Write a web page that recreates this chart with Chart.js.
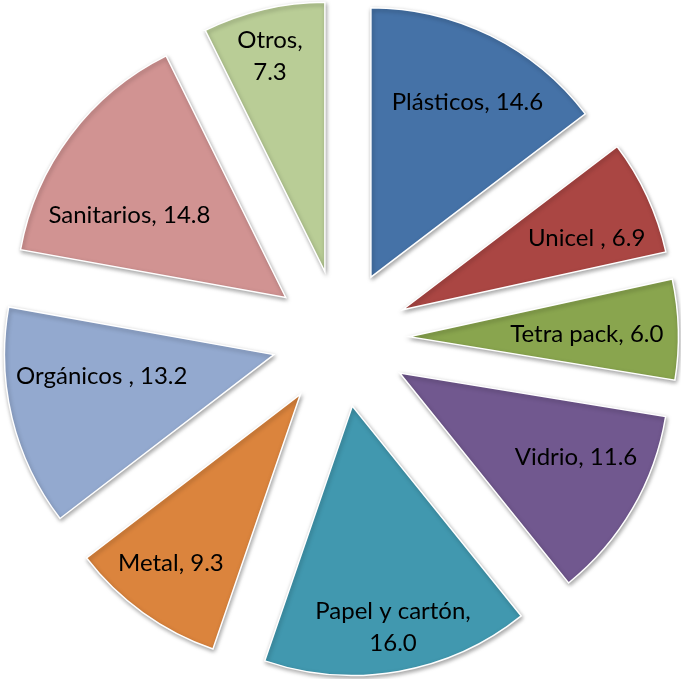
<!DOCTYPE html>
<html>
<head>
<meta charset="utf-8">
<style>
  body { margin: 0; background: #fff; }
  canvas { display: block; }
</style>
<script src="https://cdn.jsdelivr.net/npm/chart.js@4.4.1/dist/chart.umd.min.js"></script>
</head>
<body>
<canvas id="pieChart" width="681" height="679"></canvas>
<script>
// Chart data
const categories = ['Plásticos', 'Unicel ', 'Tetra pack', 'Vidrio', 'Papel y cartón', 'Metal', 'Orgánicos ', 'Sanitarios', 'Otros'];
const values = [14.6, 6.9, 6.0, 11.6, 16.0, 9.3, 13.2, 14.8, 7.3];

// Styling
const sliceColors = ['#4572A7', '#AA4643', '#89A54E', '#71588F', '#4198AF', '#DB843D', '#93A9CF', '#D19392', '#B9CD96'];
const wrapLabels = ['Papel y cartón', 'Otros'];
const explodeRatio = 0.254; // slice pulled out by about a quarter of the radius

// Label placement inside each exploded slice: [fraction of radius, angle shift in degrees]
const labelPlace = [
    [0.740, 2.6], [0.733, 3.5], [0.660, 0.7], [0.725, -4.7], [0.835, -0.5],
    [0.790, 1.75], [0.644, 6.5], [0.656, -9.1], [0.826, -1.1]
];

function labelLines(i) {
    const name = categories[i];
    const val = values[i].toFixed(1);
    if (wrapLabels.includes(name.trim())) {
        return [name + ',', val];
    }
    return [name + ', ' + val];
}

// Draws every slice pulled out along its own bisector, then the labels
const explodePlugin = {
    id: 'explodePie',
    beforeDatasetDraw(chart, args) {
        const ctx = chart.ctx;
        args.meta.data.forEach(function(arc) {
            const mid = (arc.startAngle + arc.endAngle) / 2;
            const d = arc.outerRadius * explodeRatio;
            ctx.save();
            ctx.translate(Math.cos(mid) * d, Math.sin(mid) * d);
            ctx.shadowColor = 'rgba(0, 0, 0, 0.35)';
            ctx.shadowBlur = 4;
            ctx.shadowOffsetX = 1;
            ctx.shadowOffsetY = 2;
            arc.draw(ctx);
            ctx.restore();
        });
        return false;
    },
    afterDatasetsDraw(chart) {
        const ctx = chart.ctx;
        const meta = chart.getDatasetMeta(0);
        ctx.save();
        ctx.font = '24px Lato';
        ctx.fillStyle = '#000';
        ctx.textAlign = 'center';
        ctx.textBaseline = 'middle';
        meta.data.forEach(function(arc, i) {
            const mid = (arc.startAngle + arc.endAngle) / 2;
            const r = arc.outerRadius;
            const sx = arc.x + Math.cos(mid) * r * explodeRatio;
            const sy = arc.y + Math.sin(mid) * r * explodeRatio;
            const a = mid + labelPlace[i][1] * Math.PI / 180;
            const lx = sx + Math.cos(a) * r * labelPlace[i][0];
            const ly = sy + Math.sin(a) * r * labelPlace[i][0];
            const lines = labelLines(i);
            const lineHeight = 32;
            lines.forEach(function(line, k) {
                ctx.fillText(line, lx, ly + (k - (lines.length - 1) / 2) * lineHeight);
            });
        });
        ctx.restore();
    }
};

const ctx = document.getElementById('pieChart').getContext('2d');
const myChart = new Chart(ctx, {
    type: 'pie',
    data: {
        labels: categories,
        datasets: [{
            data: values,
            backgroundColor: sliceColors,
            borderColor: '#ffffff',
            borderWidth: 1.5,
            borderJoinStyle: 'miter',
            radius: '79.8%'
        }]
    },
    options: {
        responsive: false,
        animation: false,
        layout: { padding: { bottom: 2 } },
        plugins: {
            legend: { display: false },
            tooltip: { enabled: false }
        }
    },
    plugins: [explodePlugin]
});
</script>
</body>
</html>
